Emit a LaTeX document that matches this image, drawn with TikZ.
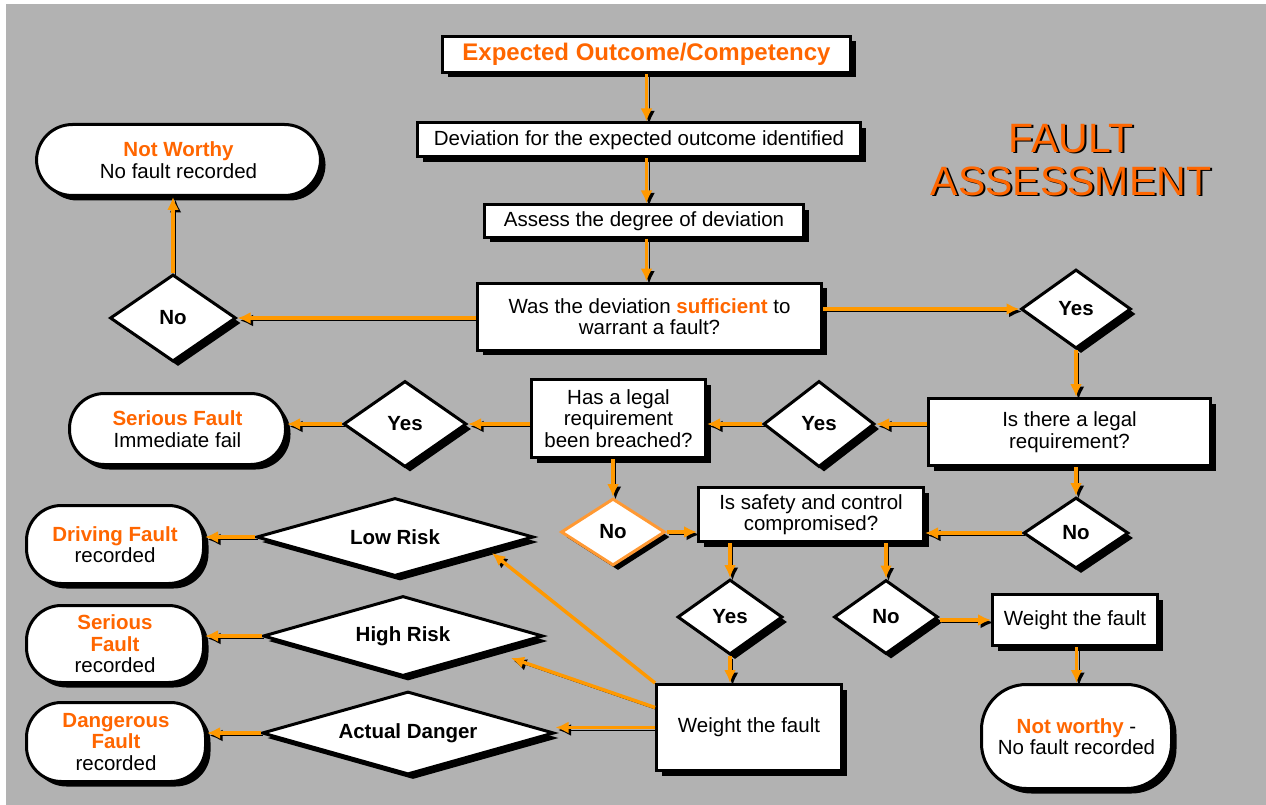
\documentclass[tikz,border=0pt]{standalone}
\usepackage{fontspec}
\setmainfont{Liberation Sans}
\usetikzlibrary{arrows.meta}
\usetikzlibrary{positioning}
\usetikzlibrary{shapes.geometric}
\usetikzlibrary{shadows}
\definecolor{bggrey}{RGB}{178,178,178}
\definecolor{faultorange}{RGB}{255,102,0}
\definecolor{lineorange}{RGB}{255,153,0}
\definecolor{edgeorange}{RGB}{255,153,51}
\newcommand{\bodyfont}{\fontsize{20.5}{21.5}\selectfont}
\newcommand{\choicefont}{\fontsize{20.5}{24}\selectfont\bfseries}
\newcommand{\hl}[1]{\textcolor{faultorange}{\bfseries #1}}

\begin{document}
\begin{tikzpicture}[x=1pt,y=-1pt]

\tikzstyle{stepbox}=[draw, line width=3pt, fill=white, inner sep=0pt, align=center, font=\bodyfont, drop shadow={shadow xshift=5pt, shadow yshift=-5pt, fill=black, opacity=1}]
\tikzstyle{choice}=[stepbox, diamond, font=\choicefont]
\tikzstyle{risk}=[choice, aspect=3.5]
\tikzstyle{outcome}=[stepbox, rounded corners=35pt]
\tikzstyle{line}=[draw=lineorange, line width=3.5pt, -{Latex[length=13pt, width=12pt]}, preaction={draw=black, transform canvas={xshift=2.5pt, yshift=-2.5pt}}]

\useasboundingbox (0,0) rectangle (1266,805);
\fill[bggrey] (6,4) rectangle (1266,805);

\node[font=\fontsize{41}{43}\selectfont, align=center, text=black] (titleshadow) at (1073,161.5) {FAULT\\ASSESSMENT};
\node[font=\fontsize{41}{43}\selectfont, align=center, text=faultorange] (title) at (1071,160) {FAULT\\ASSESSMENT};

% main column
\node[stepbox, minimum width=408, minimum height=36, font=\fontsize{24}{28}\selectfont\bfseries, text=faultorange] (expected) at (646.5,54.5) {Expected Outcome/Competency};
\node[stepbox, minimum width=443, minimum height=34] (deviation) at (639,140) {Deviation for the expected outcome identified};
\node[stepbox, minimum width=319, minimum height=32] (assess) at (644,221) {Assess the degree of deviation};
\node[stepbox, minimum width=344, minimum height=67] (sufficient) at (649.5,316.5) {Was the deviation \hl{sufficient} to\\warrant a fault?};

\node[choice, minimum width=126, minimum height=87] (nofirst) at (173,318) {No};
\node[outcome, rounded corners=36pt, minimum width=284, minimum height=71] (notworthy) at (178.5,160) {\hl{Not Worthy}\\No fault recorded};

\node[choice, minimum width=110, minimum height=79] (yesfirst) at (1076,309) {Yes};
\node[stepbox, minimum width=282, minimum height=67] (legal) at (1069.5,432) {Is there a legal\\requirement?};
\node[choice, minimum width=111, minimum height=86] (yeslegal) at (819,424) {Yes};
\node[stepbox, minimum width=174, minimum height=78] (breached) at (618.5,418.5) {Has a legal\\requirement\\been breached?};
\node[choice, minimum width=123, minimum height=86] (yesbreach) at (405,424) {Yes};
\node[outcome, minimum width=216, minimum height=71] (serious) at (177.5,429) {\hl{Serious Fault}\\Immediate fail};

\node[choice, minimum width=105, minimum height=71] (nolegal) at (1076,533) {No};
\node[choice, draw=edgeorange, minimum width=104, minimum height=67] (nobreach) at (613,532) {No};
\node[stepbox, minimum width=225, minimum height=54] (safety) at (811,514.5) {Is safety and control\\compromised?};

\node[choice, minimum width=105, minimum height=75] (yessafety) at (730,617) {Yes};
\node[choice, minimum width=104, minimum height=74] (nosafety) at (886,617) {No};
\node[stepbox, minimum width=165, minimum height=51] (weightright) at (1075,620) {Weight the fault};
\node[outcome, rounded corners=45pt, minimum width=190, minimum height=104] (notworthylow) at (1076.5,736.5) {\hl{Not worthy} -\\No fault recorded};
\node[stepbox, minimum width=185, minimum height=86] (weight) at (749,727.5) {Weight the fault};

% risk levels
\node[risk, minimum width=277, minimum height=78] (lowrisk) at (395,537) {Low Risk};
\node[risk, minimum width=280, minimum height=80] (highrisk) at (403,636) {High Risk};
\node[risk, minimum width=292, minimum height=83] (danger) at (408,733) {Actual Danger};
\node[outcome, minimum width=177, minimum height=78] (driving) at (115,544.5) {\hl{Driving Fault}\\recorded};
\node[outcome, minimum width=177, minimum height=77] (seriousrec) at (115,644) {\hl{Serious}\\\hl{Fault}\\recorded};
\node[outcome, minimum width=179, minimum height=79] (dangerous) at (116,742) {\hl{Dangerous}\\\hl{Fault}\\recorded};
\coordinate (lowtip) at (492,553);
\coordinate (hightip) at (511,658);

\path[line] (expected.south) -- (expected.south |- deviation.north);
\path[line] (expected.south |- deviation.south) -- (expected.south |- assess.north);
\path[line] (expected.south |- assess.south) -- (expected.south |- sufficient.north);

\path[line] (sufficient.west |- nofirst.east) -- (nofirst.east);
\path[line] (nofirst.north) -- (nofirst.north |- notworthy.south);
\path[line] (sufficient.east |- yesfirst.west) -- (yesfirst.west);
\path[line] (yesfirst.south) -- (yesfirst.south |- legal.north);

\path[line] (legal.west |- yeslegal.east) -- (yeslegal.east);
\path[line] (yeslegal.west) -- (yeslegal.west -| breached.east);
\path[line] (breached.west |- yesbreach.east) -- (yesbreach.east);
\path[line] (yesbreach.west) -- (yesbreach.west -| serious.east);

\path[line] (legal.south -| nolegal.north) -- (nolegal.north);
\path[line] (nolegal.west) -- (nolegal.west -| safety.east);
\path[line] (breached.south -| nobreach.north) -- (nobreach.north);
\path[line] (nobreach.east) -- (nobreach.east -| safety.west);

\path[line] (safety.south -| yessafety.north) -- (yessafety.north);
\path[line] (safety.south -| nosafety.north) -- (nosafety.north);
\path[line] (yessafety.south) -- (yessafety.south |- weight.north);
\path[line] (nosafety.east |- weightright.west) -- (weightright.west);
\path[line] (weightright.south -| notworthylow.north) -- (notworthylow.north);

\path[line] (weight.north west) -- (lowtip);
\path[line] (weight.168) -- (hightip);
\path[line] (weight.west) -- (weight.west -| danger.east);
\path[line] (lowrisk.west) -- (lowrisk.west -| driving.east);
\path[line] (highrisk.west) -- (highrisk.west -| seriousrec.east);
\path[line] (danger.west) -- (danger.west -| dangerous.east);

\end{tikzpicture}
\end{document}
